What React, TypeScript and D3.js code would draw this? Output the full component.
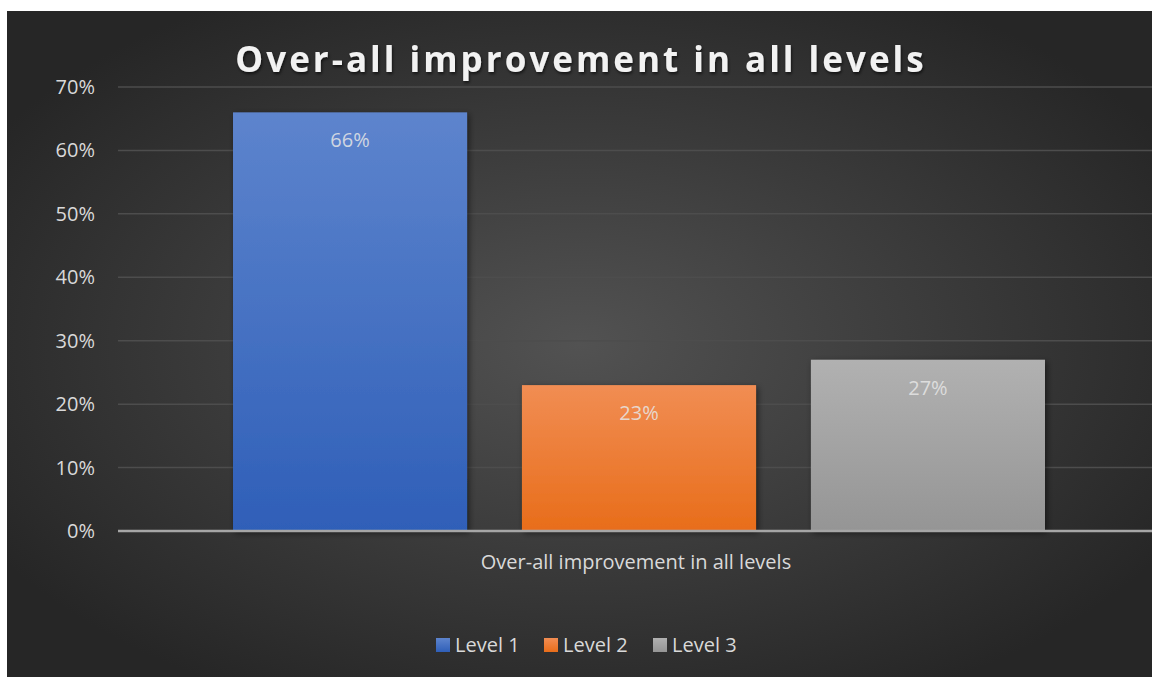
import React, { useEffect, useRef } from "react";
import * as d3 from "d3";

const categories = ["Over-all improvement in all levels"];
const seriesNames = ["Level 1", "Level 2", "Level 3"];
const seriesValues = [0.66, 0.23, 0.27];
const yTicks = [0, 0.1, 0.2, 0.3, 0.4, 0.5, 0.6, 0.7];

const colors = [
  { top: "#5d84cd", bottom: "#2f5fb8" },
  { top: "#f18d53", bottom: "#e86d1a" },
  { top: "#b1b1b1", bottom: "#959595" },
];

const W = 1152;
const H = 677;
const FONT = "'Open Sans', 'Noto Sans', sans-serif";

export default function App() {
  const ref = useRef<SVGSVGElement | null>(null);

  useEffect(() => {
    const svg = d3.select(ref.current);
    svg.selectAll("*").remove();

    // plot area runs a little past the right edge, like the source
    const margin = { top: 87, right: -8, bottom: 146, left: 118 };
    const innerW = W - margin.left - margin.right;
    const innerH = H - margin.top - margin.bottom;

    const defs = svg.append("defs");
    const bg = defs
      .append("radialGradient")
      .attr("id", "bg")
      .attr("cx", "50%")
      .attr("cy", "50%")
      .attr("r", "60%");
    bg.append("stop").attr("offset", "0%").attr("stop-color", "#525252");
    bg.append("stop").attr("offset", "100%").attr("stop-color", "#262626");

    colors.forEach((c, i) => {
      const g = defs
        .append("linearGradient")
        .attr("id", "bar" + i)
        .attr("x1", 0)
        .attr("y1", 0)
        .attr("x2", 0)
        .attr("y2", 1);
      g.append("stop").attr("offset", "0%").attr("stop-color", c.top);
      g.append("stop").attr("offset", "100%").attr("stop-color", c.bottom);
    });

    const shadow = defs
      .append("filter")
      .attr("id", "shadow")
      .attr("x", "-10%")
      .attr("y", "-10%")
      .attr("width", "130%")
      .attr("height", "130%");
    shadow
      .append("feDropShadow")
      .attr("dx", 2)
      .attr("dy", 2)
      .attr("stdDeviation", 3)
      .attr("flood-color", "#000")
      .attr("flood-opacity", 0.5);

    const tshadow = defs
      .append("filter")
      .attr("id", "tshadow")
      .attr("x", "-5%")
      .attr("y", "-20%")
      .attr("width", "110%")
      .attr("height", "150%");
    tshadow
      .append("feDropShadow")
      .attr("dx", 1)
      .attr("dy", 2)
      .attr("stdDeviation", 1.5)
      .attr("flood-color", "#000")
      .attr("flood-opacity", 0.6);

    // chart area background
    svg
      .append("rect")
      .attr("x", 7)
      .attr("y", 11)
      .attr("width", W - 7)
      .attr("height", H - 11)
      .attr("fill", "url(#bg)");

    // title
    svg
      .append("text")
      .attr("x", 581)
      .attr("y", 72)
      .attr("text-anchor", "middle")
      .attr("font-family", FONT)
      .attr("font-size", 35)
      .attr("font-weight", 700)
      .attr("letter-spacing", 3)
      .attr("fill", "#f2f2f2")
      .attr("filter", "url(#tshadow)")
      .text("Over-all improvement in all levels");

    const g = svg
      .append("g")
      .attr("transform", `translate(${margin.left},${margin.top})`);

    const y = d3.scaleLinear().domain([0, 0.7]).range([innerH, 0]);
    const x0 = d3.scaleBand().domain(categories).range([0, innerW]).paddingInner(0).paddingOuter(0);
    const x1 = d3
      .scaleBand()
      .domain(seriesNames)
      .range([0, x0.bandwidth()])
      .paddingInner(0.19)
      .paddingOuter(0.398);

    // gridlines
    g.selectAll(".grid")
      .data(yTicks.filter((t) => t > 0))
      .enter()
      .append("line")
      .attr("x1", 0)
      .attr("x2", innerW)
      .attr("y1", (d) => y(d))
      .attr("y2", (d) => y(d))
      .attr("stroke", "#4d4d4d")
      .attr("stroke-width", 1.5);

    // y tick labels
    g.selectAll(".ytick")
      .data(yTicks)
      .enter()
      .append("text")
      .attr("x", -23)
      .attr("y", (d) => y(d))
      .attr("dy", "0.35em")
      .attr("text-anchor", "end")
      .attr("font-family", FONT)
      .attr("font-size", 20)
      .attr("fill", "#d9d9d9")
      .text((d) => d3.format(".0%")(d));

    // bars
    const bars = g
      .selectAll(".bar")
      .data(seriesValues)
      .enter()
      .append("g");

    bars
      .append("rect")
      .attr("x", (d, i) => x0(categories[0])! + x1(seriesNames[i])!)
      .attr("y", (d) => y(d))
      .attr("width", x1.bandwidth())
      .attr("height", (d) => innerH - y(d))
      .attr("fill", (d, i) => `url(#bar${i})`)
      .attr("filter", "url(#shadow)");

    bars
      .append("text")
      .attr("x", (d, i) => x0(categories[0])! + x1(seriesNames[i])! + x1.bandwidth() / 2)
      .attr("y", (d) => y(d) + 35)
      .attr("text-anchor", "middle")
      .attr("font-family", FONT)
      .attr("font-size", 20)
      .attr("fill", "#e6e6e6")
      .attr("fill-opacity", 0.85)
      .text((d) => d3.format(".0%")(d));

    // baseline axis
    g.append("line")
      .attr("x1", 0)
      .attr("x2", innerW)
      .attr("y1", innerH)
      .attr("y2", innerH)
      .attr("stroke", "#a6a6a6")
      .attr("stroke-width", 2.5);

    // category label
    g.append("text")
      .attr("x", x0(categories[0])! + x0.bandwidth() / 2 - 3)
      .attr("y", innerH + 38)
      .attr("text-anchor", "middle")
      .attr("font-family", FONT)
      .attr("font-size", 20)
      .attr("fill", "#d9d9d9")
      .text(categories[0]);

    // legend
    const legendX = [436, 544, 653];
    const legend = svg
      .selectAll(".legend")
      .data(seriesNames)
      .enter()
      .append("g")
      .attr("transform", (d, i) => `translate(${legendX[i]},${638})`);
    legend
      .append("rect")
      .attr("width", 14)
      .attr("height", 14)
      .attr("fill", (d, i) => `url(#bar${i})`);
    legend
      .append("text")
      .attr("x", 19)
      .attr("y", 7)
      .attr("dy", "0.35em")
      .attr("font-family", FONT)
      .attr("font-size", 20)
      .attr("fill", "#d9d9d9")
      .text((d) => d);
  }, []);

  return (
    <svg
      ref={ref}
      width={W}
      height={H}
      style={{ position: "absolute", left: 0, top: 0, background: "#fff" }}
    />
  );
}
